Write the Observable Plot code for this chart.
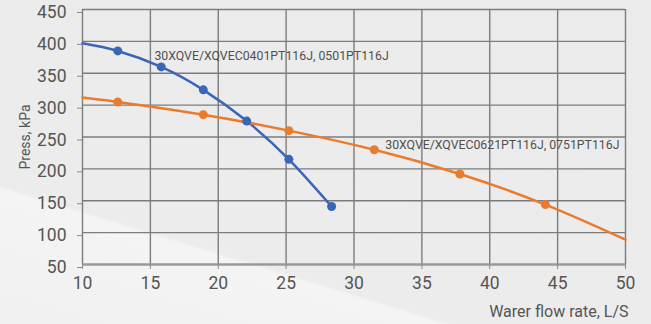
<!DOCTYPE html>
<html>
<head>
<meta charset="utf-8">
<script src="https://cdn.jsdelivr.net/npm/d3@7"></script>
<script src="https://cdn.jsdelivr.net/npm/@observablehq/plot@0.6"></script>
<style>
  html, body { margin: 0; padding: 0; }
  body {
    width: 651px; height: 324px; overflow: hidden;
    background: linear-gradient(197deg, #ebebeb 0%, #ececec 73.5%, #f4f4f4 74.2%, #f0f0f0 100%);
  }
  #chart svg { display: block; background: transparent; }
  g[aria-label="y-axis label"] text { font-size: 14px; }
</style>
</head>
<body>
<div id="chart"></div>
<script>
// Series A: 30XQVE/XQVEC0401PT116J, 0501PT116J (blue)
const blueCurveX = [10, 12.6, 15.8, 18.9, 22.1, 25.2, 28.35];
const blueCurveY = [397, 385, 360, 324, 275, 215, 141];
const blueDotX = [12.6, 15.8, 18.9, 22.1, 25.2, 28.35];
const blueDotY = [385, 360, 324, 275, 215, 141];

// Series B: 30XQVE/XQVEC0621PT116J, 0751PT116J (orange)
const orangeCurveX = [10, 12.6, 18.9, 25.2, 31.5, 37.8, 44.1, 50];
const orangeCurveY = [312, 305, 285, 260, 230, 192, 144, 89];
const orangeDotX = [12.6, 18.9, 25.2, 31.5, 37.8, 44.1];
const orangeDotY = [305, 285, 260, 230, 192, 144];

const seriesLabels = ["30XQVE/XQVEC0401PT116J, 0501PT116J", "30XQVE/XQVEC0621PT116J, 0751PT116J"];
const labelX = [15.3, 32.3];
const labelY = [377, 237];

const xTicks = [10, 15, 20, 25, 30, 35, 40, 45, 50];
const yTicks = [50, 100, 150, 200, 250, 300, 350, 400, 450];
const xTitle = "Warer flow rate, L/S";
const yTitle = "Press, kPa";

const blue = "#3a66b8";
const orange = "#ea7b2c";
const gridColor = "#7c7c7c";
const textColor = "#555555";
const font = "'Liberation Sans Narrow', 'Roboto', sans-serif";

const blueLine = blueCurveX.map((x, i) => ({x, y: blueCurveY[i]}));
const blueDots = blueDotX.map((x, i) => ({x, y: blueDotY[i]}));
const orangeLine = orangeCurveX.map((x, i) => ({x, y: orangeCurveY[i]}));
const orangeDots = orangeDotX.map((x, i) => ({x, y: orangeDotY[i]}));
const labels = seriesLabels.map((t, i) => ({t, x: labelX[i], y: labelY[i]}));

const chart = Plot.plot({
  width: 651,
  height: 324,
  marginLeft: 82,
  marginRight: 26,
  marginTop: 9,
  marginBottom: 60,
  style: { fontFamily: font, color: textColor, background: "transparent", overflow: "visible" },
  x: { domain: [10, 50] },
  y: { domain: [50, 450] },
  marks: [
    Plot.gridX(xTicks, { stroke: gridColor, strokeOpacity: 1, strokeWidth: 1.4 }),
    Plot.gridY(yTicks.filter(d => d > 50), { stroke: gridColor, strokeOpacity: 1, strokeWidth: 1.4 }),
    Plot.ruleY([50], { stroke: "#9a9a9a", strokeWidth: 2.5 }),
    Plot.axisX({
      ticks: xTicks, tickSize: 5, tickPadding: 7, stroke: "#8a8a8a",
      fontSize: 17.5, fill: textColor, label: null
    }),
    Plot.axisY({
      ticks: yTicks, tickSize: 5, tickPadding: 11, stroke: "#8a8a8a",
      fontSize: 17.5, fill: textColor, dy: 3,
      label: yTitle, labelAnchor: "center", labelArrow: "none", labelOffset: 62
    }),
    Plot.text([xTitle], {
      frameAnchor: "bottom-right", text: d => d, textAnchor: "end", lineAnchor: "middle",
      dx: 3, dy: 47, fontSize: 16, fill: textColor
    }),
    Plot.line(blueLine, { x: "x", y: "y", stroke: blue, strokeWidth: 2.5, curve: "natural" }),
    Plot.line(orangeLine, { x: "x", y: "y", stroke: orange, strokeWidth: 2.5, curve: "natural" }),
    Plot.dot(blueDots, { x: "x", y: "y", r: 4.5, fill: blue, stroke: "none" }),
    Plot.dot(orangeDots, { x: "x", y: "y", r: 4.5, fill: orange, stroke: "none" }),
    Plot.text(labels, { x: "x", y: "y", text: "t", textAnchor: "start", fontSize: 12.3, fill: "#505050", fontFamily: "'Roboto', sans-serif" })
  ]
});
document.getElementById("chart").appendChild(chart);
</script>
</body>
</html>
